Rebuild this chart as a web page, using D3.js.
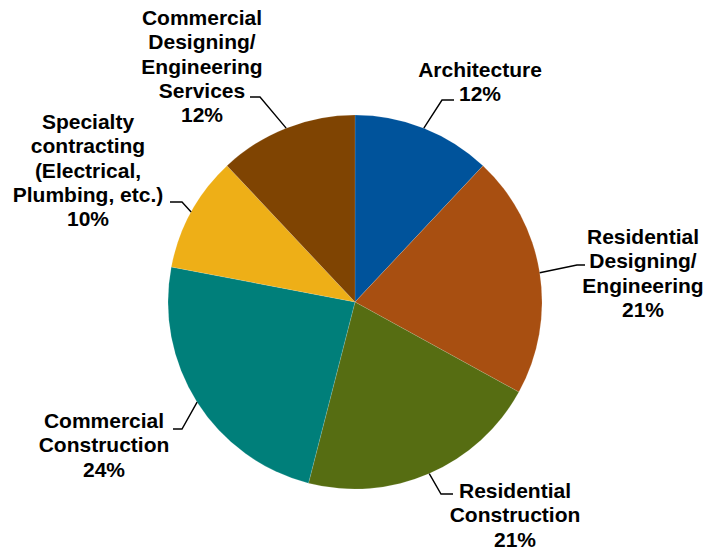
<!DOCTYPE html>
<html>
<head>
<meta charset="utf-8">
<script src="https://cdn.jsdelivr.net/npm/d3@7"></script>
<style>
  html, body { margin: 0; padding: 0; background: #ffffff; }
  svg { display: block; }
  text { font-family: "Liberation Sans", Arial, sans-serif; font-weight: bold; font-size: 21px; fill: #000; }
</style>
</head>
<body>
<svg id="chart" width="709" height="550"></svg>
<script>
// Industry segments, clockwise from 12 o'clock
const categories = [
  "Architecture",
  "Residential\nDesigning/\nEngineering",
  "Residential\nConstruction",
  "Commercial\nConstruction",
  "Specialty\ncontracting\n(Electrical,\nPlumbing, etc.)",
  "Commercial\nDesigning/\nEngineering\nServices"
];
const shares = [12, 21, 21, 24, 10, 12];
const colors = ["#00539b", "#a84f11", "#566d12", "#007f7a", "#eeaf17", "#7f4402"];

// Label placement: text centre x, first baseline, leader elbow and leader end
const labelLayout = [
  { x: 480, y: 77,  elbow: [442, 100], end: [454, 100] },
  { x: 643, y: 244, elbow: [577, 265], end: [585, 265] },
  { x: 515, y: 498, elbow: [441, 494], end: [453, 494] },
  { x: 104, y: 428, elbow: [182, 429], end: [173, 429] },
  { x: 88,  y: 129, elbow: [182, 202], end: [170, 202] },
  { x: 202, y: 25,  elbow: [260, 97],  end: [250, 97] }
];
const lineHeight = 24.3;

const svg = d3.select("#chart");
const cx = 355, cy = 302, radius = 187;

const data = categories.map((c, i) => ({ name: c, value: shares[i], color: colors[i], layout: labelLayout[i] }));

const pie = d3.pie().value(d => d.value).sort(null);
const arcs = pie(data);
const arc = d3.arc().innerRadius(0).outerRadius(radius);
const rimArc = d3.arc().innerRadius(radius).outerRadius(radius);

const g = svg.append("g").attr("transform", `translate(${cx},${cy})`);

g.selectAll("path.slice")
  .data(arcs)
  .enter().append("path")
  .attr("class", "slice")
  .attr("d", arc)
  .attr("fill", d => d.data.color)
  .attr("stroke", "rgba(255,255,255,0.25)")
  .attr("stroke-width", 0.5);

// Leader lines from the slice rim to each label
svg.selectAll("polyline.leader")
  .data(arcs)
  .enter().append("polyline")
  .attr("class", "leader")
  .attr("fill", "none")
  .attr("stroke", "#000")
  .attr("stroke-width", 1.4)
  .attr("points", d => {
    const [rx, ry] = rimArc.centroid(d);
    const L = d.data.layout;
    return [[cx + rx, cy + ry], L.elbow, L.end].map(p => p.join(",")).join(" ");
  });

// Category and percentage labels
const labels = svg.selectAll("text.label")
  .data(arcs)
  .enter().append("text")
  .attr("class", "label")
  .attr("text-anchor", "middle")
  .attr("x", d => d.data.layout.x)
  .attr("y", d => d.data.layout.y);

labels.each(function(d) {
  const lines = d.data.name.split("\n").concat([`${d.data.value}%`]);
  const t = d3.select(this);
  lines.forEach((line, i) => {
    t.append("tspan")
      .attr("x", d.data.layout.x)
      .attr("dy", i === 0 ? 0 : lineHeight)
      .text(line);
  });
});
</script>
</body>
</html>
